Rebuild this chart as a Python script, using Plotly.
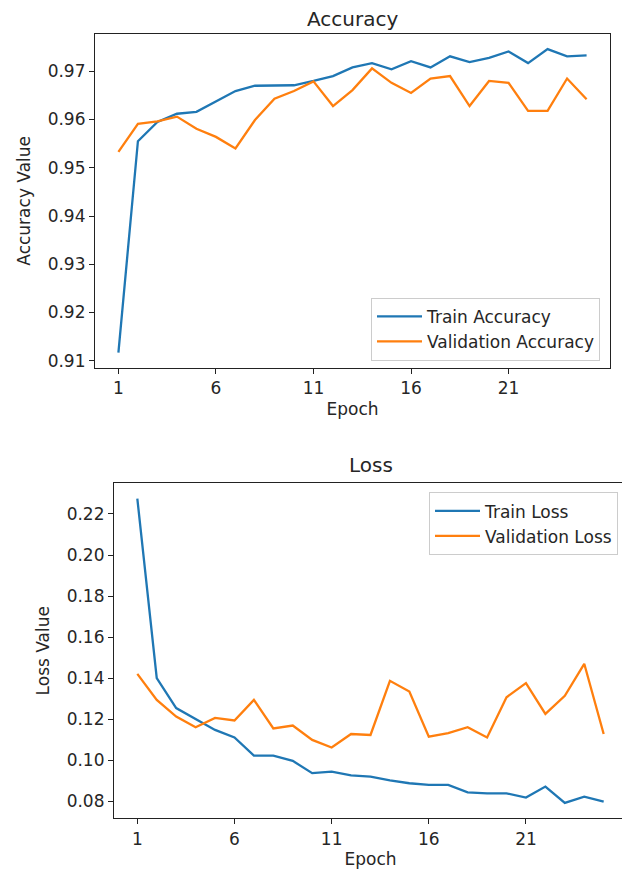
import plotly.graph_objects as go

epochs = list(range(1, 26))
train_acc = [0.9117, 0.9555, 0.9595, 0.9612, 0.9616, 0.9637, 0.9659, 0.9670, 0.9670, 0.9671,
             0.9680, 0.9690, 0.9708, 0.9717, 0.9704, 0.9721, 0.9708, 0.9731, 0.9719, 0.9728,
             0.9741, 0.9717, 0.9746, 0.9731, 0.9733]
val_acc = [0.9533, 0.9591, 0.9596, 0.9606, 0.9581, 0.9564, 0.9540, 0.9599, 0.9643, 0.9659,
           0.9679, 0.9628, 0.9661, 0.9706, 0.9676, 0.9655, 0.9685, 0.9690, 0.9628, 0.9680,
           0.9676, 0.9618, 0.9618, 0.9685, 0.9642]
train_loss = [0.2275, 0.1400, 0.1254, 0.1200, 0.1148, 0.1111, 0.1023, 0.1023, 0.0997, 0.0937,
              0.0945, 0.0926, 0.0920, 0.0902, 0.0888, 0.0880, 0.0880, 0.0844, 0.0839, 0.0839,
              0.0818, 0.0872, 0.0792, 0.0823, 0.0798]
val_loss = [0.1421, 0.1294, 0.1213, 0.1161, 0.1206, 0.1194, 0.1294, 0.1155, 0.1169, 0.1099,
            0.1062, 0.1128, 0.1123, 0.1387, 0.1335, 0.1115, 0.1132, 0.1161, 0.1111, 0.1307,
            0.1376, 0.1226, 0.1314, 0.1470, 0.1128]
x_ticks = [1, 6, 11, 16, 21]
acc_ticks = [0.91, 0.92, 0.93, 0.94, 0.95, 0.96, 0.97]
loss_ticks = [0.08, 0.10, 0.12, 0.14, 0.16, 0.18, 0.20, 0.22]

BLUE = "#1f77b4"
ORANGE = "#ff7f0e"
FONT = "DejaVu Sans"
FS = 17
OFF = 8  # page body margin
W, H = 630 - OFF, 871 - OFF
LW = 2.3


def px(v):
    return (v - OFF) / W


def py(v):
    return 1 - (v - OFF) / H


fig = go.Figure()
fig.add_trace(go.Scatter(x=epochs, y=train_acc, mode="lines", name="Train Accuracy",
                         line=dict(color=BLUE, width=LW), xaxis="x", yaxis="y", legend="legend"))
fig.add_trace(go.Scatter(x=epochs, y=val_acc, mode="lines", name="Validation Accuracy",
                         line=dict(color=ORANGE, width=LW), xaxis="x", yaxis="y", legend="legend"))
fig.add_trace(go.Scatter(x=epochs, y=train_loss, mode="lines", name="Train Loss",
                         line=dict(color=BLUE, width=LW), xaxis="x2", yaxis="y2", legend="legend2"))
fig.add_trace(go.Scatter(x=epochs, y=val_loss, mode="lines", name="Validation Loss",
                         line=dict(color=ORANGE, width=LW), xaxis="x2", yaxis="y2", legend="legend2"))

axis_common = dict(showgrid=False, zeroline=False, showline=True, mirror=True,
                   linecolor="#222222", linewidth=1.2, ticks="outside", ticklen=5,
                   tickwidth=1.2, tickcolor="#222222",
                   tickfont=dict(family=FONT, size=FS, color="#262626"))


def yr(vals):
    lo, hi = min(vals), max(vals)
    m = (hi - lo) * 0.05
    return [lo - m, hi + m]


acc_all = train_acc + val_acc
loss_all = train_loss + val_loss

legend_common = dict(bgcolor="rgba(255,255,255,0.8)", bordercolor="#cccccc", borderwidth=1,
                     itemwidth=45, font=dict(family=FONT, size=FS, color="#262626"))

fig.update_layout(
    width=W, height=H, margin=dict(l=0, r=0, t=0, b=0),
    paper_bgcolor="white", plot_bgcolor="white",
    font=dict(family=FONT, size=FS, color="#262626"),
    xaxis=dict(**axis_common, domain=[px(95), px(610)], range=[-0.2, 26.2],
               tickvals=x_ticks, anchor="y",
               title=dict(text="Epoch", standoff=5, font=dict(family=FONT, size=FS))),
    yaxis=dict(**axis_common, domain=[py(369), py(34)], range=yr(acc_all),
               tickvals=acc_ticks, tickformat=".2f", anchor="x",
               title=dict(text="Accuracy Value", standoff=12, font=dict(family=FONT, size=FS))),
    xaxis2=dict(**axis_common, domain=[px(114), px(627)], range=[-0.2, 26.2],
                tickvals=x_ticks, anchor="y2",
                title=dict(text="Epoch", standoff=5, font=dict(family=FONT, size=FS))),
    yaxis2=dict(**axis_common, domain=[py(821), py(485)], range=yr(loss_all),
                tickvals=loss_ticks, tickformat=".2f", anchor="x2",
                title=dict(text="Loss Value", standoff=12, font=dict(family=FONT, size=FS))),
    legend=dict(x=px(600), y=py(362), xanchor="right", yanchor="bottom", **legend_common),
    legend2=dict(x=px(618), y=py(494), xanchor="right", yanchor="top", **legend_common),
    annotations=[
        dict(text="Accuracy", x=px((95 + 610) / 2), y=py(19), xref="paper", yref="paper",
             showarrow=False, font=dict(family=FONT, size=20, color="#262626"),
             xanchor="center", yanchor="middle"),
        dict(text="Loss", x=px((114 + 627) / 2), y=py(467), xref="paper", yref="paper",
             showarrow=False, font=dict(family=FONT, size=20, color="#262626"),
             xanchor="center", yanchor="middle"),
    ],
)

fig.write_html("out.html")
